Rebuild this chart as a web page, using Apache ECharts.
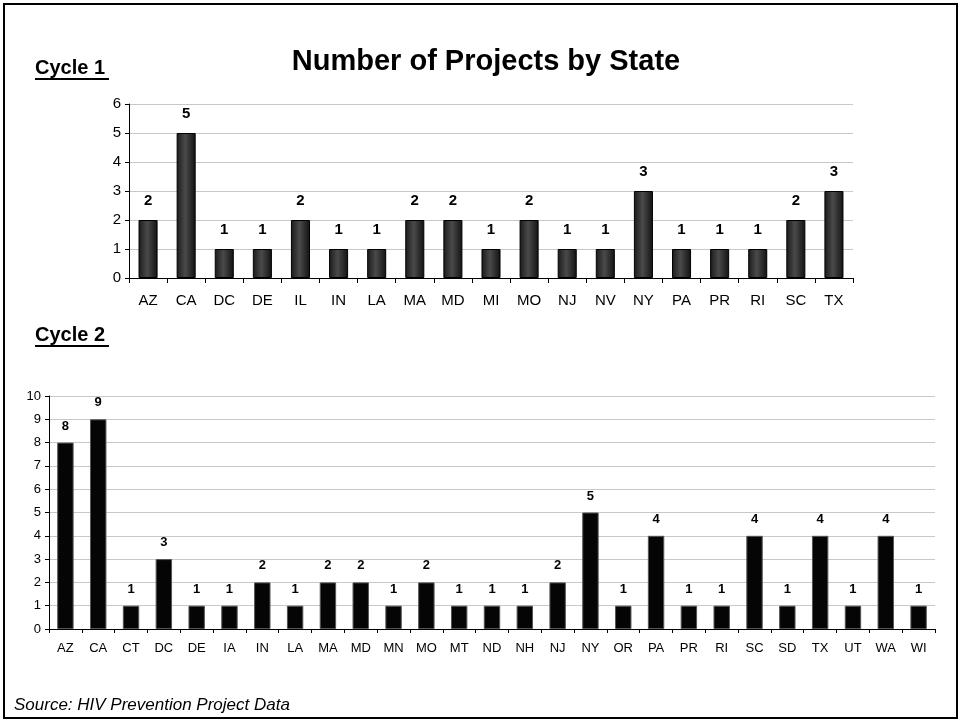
<!DOCTYPE html>
<html>
<head>
<meta charset="utf-8">
<script src="https://cdn.jsdelivr.net/npm/echarts@6/dist/echarts.min.js"></script>
<style>
html,body{margin:0;padding:0;background:#fff;}
#chart{width:960px;height:721px;}
</style>
</head>
<body>
<div id="chart"></div>
<script>
// Cycle 1
var states1 = ['AZ','CA','DC','DE','IL','IN','LA','MA','MD','MI','MO','NJ','NV','NY','PA','PR','RI','SC','TX'];
var counts1 = [2,5,1,1,2,1,1,2,2,1,2,1,1,3,1,1,1,2,3];
// Cycle 2
var states2 = ['AZ','CA','CT','DC','DE','IA','IN','LA','MA','MD','MN','MO','MT','ND','NH','NJ','NY','OR','PA','PR','RI','SC','SD','TX','UT','WA','WI'];
var counts2 = [8,9,1,3,1,1,2,1,2,2,1,2,1,1,1,2,5,1,4,1,1,4,1,4,1,4,1];

var font = 'Liberation Sans, Arial, sans-serif';

var barGrad = new echarts.graphic.LinearGradient(0, 0, 1, 0, [
	{offset: 0, color: '#1a1a1a'},
	{offset: 0.45, color: '#4a4a4a'},
	{offset: 1, color: '#111'}
]);

var option = {
	animation: false,
	backgroundColor: '#fff',
	title: [{
		text: 'Number of Projects by State',
		left: 481, top: 42, textAlign: 'center',
		textStyle: {fontFamily: font, fontSize: 29, fontWeight: 'bold', color: '#000'}
	}],
	graphic: [
		{type: 'rect', shape: {x: 4, y: 4, width: 953, height: 714}, style: {fill: 'none', stroke: '#000', lineWidth: 2}},
		{type: 'text', left: 35, top: 58, style: {text: 'Cycle 1', font: 'bold 20px ' + font, fill: '#000'}},
		{type: 'rect', shape: {x: 35, y: 78, width: 74, height: 2}, style: {fill: '#000'}},
		{type: 'text', left: 35, top: 325, style: {text: 'Cycle 2', font: 'bold 20px ' + font, fill: '#000'}},
		{type: 'rect', shape: {x: 35, y: 345, width: 74, height: 2}, style: {fill: '#000'}},
		{type: 'text', left: 14, top: 697, style: {text: 'Source: HIV Prevention Project Data', font: 'italic 17px ' + font, fill: '#000'}}
	],
	grid: [
		{left: 129, top: 104, width: 724, height: 174},
		{left: 49, top: 396, width: 886, height: 233}
	],
	xAxis: [{
		gridIndex: 0, type: 'category', data: states1,
		axisLine: {lineStyle: {color: '#000'}},
		axisTick: {show: true, length: 5, lineStyle: {color: '#000'}},
		axisLabel: {color: '#000', fontFamily: font, fontSize: 15, margin: 15}
	}, {
		gridIndex: 1, type: 'category', data: states2,
		axisLine: {lineStyle: {color: '#000'}},
		axisTick: {show: true, length: 4, lineStyle: {color: '#000'}},
		axisLabel: {color: '#000', fontFamily: font, fontSize: 13, margin: 13}
	}],
	yAxis: [{
		gridIndex: 0, type: 'value', min: 0, max: 6, interval: 1,
		axisLine: {show: true, lineStyle: {color: '#000'}},
		axisTick: {show: true, length: 4, lineStyle: {color: '#000'}},
		axisLabel: {color: '#000', fontFamily: font, fontSize: 15, margin: 8},
		splitLine: {lineStyle: {color: '#c8c8c8'}}
	}, {
		gridIndex: 1, type: 'value', min: 0, max: 10, interval: 1,
		axisLine: {show: true, lineStyle: {color: '#000'}},
		axisTick: {show: true, length: 4, lineStyle: {color: '#000'}},
		axisLabel: {color: '#000', fontFamily: font, fontSize: 13, margin: 8},
		splitLine: {lineStyle: {color: '#c8c8c8'}}
	}],
	series: [{
		type: 'bar', xAxisIndex: 0, yAxisIndex: 0, data: counts1,
		barWidth: '50%',
		itemStyle: {color: barGrad, borderColor: '#000', borderWidth: 1},
		label: {show: true, position: 'top', distance: 12, color: '#000', fontFamily: font, fontSize: 15, fontWeight: 'bold'}
	}, {
		type: 'bar', xAxisIndex: 1, yAxisIndex: 1, data: counts2,
		barWidth: '50%',
		itemStyle: {color: '#050505', borderColor: '#555', borderWidth: 1},
		label: {show: true, position: 'top', distance: 10, color: '#000', fontFamily: font, fontSize: 13, fontWeight: 'bold'}
	}]
};

var myChart = echarts.init(document.getElementById('chart'));
myChart.setOption(option);
</script>
</body>
</html>
